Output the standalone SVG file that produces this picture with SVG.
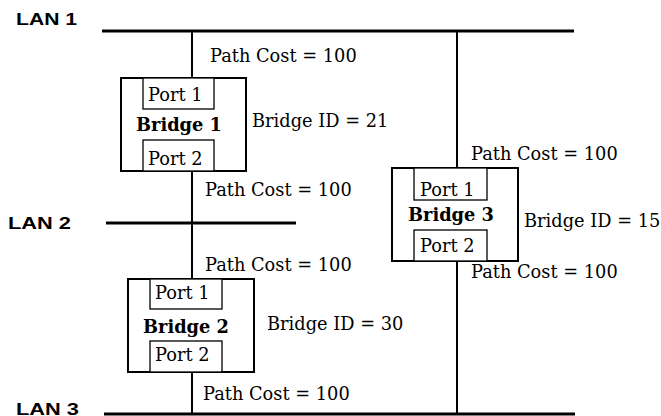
<svg xmlns="http://www.w3.org/2000/svg" width="661" height="416" viewBox="0 0 661 416">
<style>
.lan{stroke:#000;stroke-width:3;fill:none}
.wire{stroke:#000;stroke-width:2;fill:none}
.box{stroke:#000;stroke-width:2;fill:#fff}
.port{stroke:#000;stroke-width:1.3;fill:#fff}
.lbl{font-family:"Liberation Sans",Arial,sans-serif;font-weight:bold;font-size:17px;fill:#000}
.t{font-family:"DejaVu Serif",serif;font-size:17.8px;fill:#000}
.b{font-family:"DejaVu Serif",serif;font-weight:bold;font-size:17.8px;fill:#000}
</style>
<rect width="661" height="416" fill="#fff"/>
<g id="lan1">
<line class="lan" x1="102" y1="31" x2="574" y2="31"/>
<text class="lbl" x="16" y="25" textLength="61" lengthAdjust="spacingAndGlyphs">LAN 1</text>
</g>
<g id="lan2">
<line class="lan" x1="106" y1="223" x2="296" y2="223"/>
<text class="lbl" x="8" y="229" textLength="63" lengthAdjust="spacingAndGlyphs">LAN 2</text>
</g>
<g id="lan3">
<line class="lan" x1="104" y1="414" x2="575" y2="414"/>
<text class="lbl" x="16" y="415" textLength="63" lengthAdjust="spacingAndGlyphs">LAN 3</text>
</g>
<g id="connectors">
<line class="wire" x1="192" y1="31" x2="192" y2="78"/>
<line class="wire" x1="192" y1="171" x2="192" y2="279"/>
<line class="wire" x1="192" y1="372" x2="192" y2="414"/>
<line class="wire" x1="457" y1="31" x2="457" y2="168"/>
<line class="wire" x1="457" y1="261" x2="457" y2="414"/>
<text class="t" x="210" y="62">Path Cost = 100</text>
<text class="t" x="205" y="196">Path Cost = 100</text>
<text class="t" x="205" y="271">Path Cost = 100</text>
<text class="t" x="203" y="400">Path Cost = 100</text>
<text class="t" x="471" y="160">Path Cost = 100</text>
<text class="t" x="471" y="278">Path Cost = 100</text>
</g>
<g id="bridge1">
<rect class="box" x="121" y="78" width="125" height="93"/>
<rect class="port" x="143" y="78" width="71" height="31"/>
<rect class="port" x="143" y="140" width="71" height="31"/>
<text class="t" x="148" y="101">Port 1</text>
<text class="t" x="148" y="165">Port 2</text>
<text class="b" x="136" y="131">Bridge 1</text>
<text class="t" x="252" y="127">Bridge ID = 21</text>
</g>
<g id="bridge2">
<rect class="box" x="128" y="279" width="126" height="93"/>
<rect class="port" x="150" y="279" width="72" height="30"/>
<rect class="port" x="150" y="341" width="72" height="31"/>
<text class="t" x="155" y="299">Port 1</text>
<text class="t" x="155" y="361">Port 2</text>
<text class="b" x="143" y="333">Bridge 2</text>
<text class="t" x="267" y="330">Bridge ID = 30</text>
</g>
<g id="bridge3">
<rect class="box" x="392" y="168" width="126" height="93"/>
<rect class="port" x="414" y="168" width="73" height="32"/>
<rect class="port" x="414" y="230" width="73" height="31"/>
<text class="t" x="420" y="196">Port 1</text>
<text class="t" x="420" y="252">Port 2</text>
<text class="b" x="408" y="221">Bridge 3</text>
<text class="t" x="524" y="227">Bridge ID = 15</text>
</g>
</svg>
